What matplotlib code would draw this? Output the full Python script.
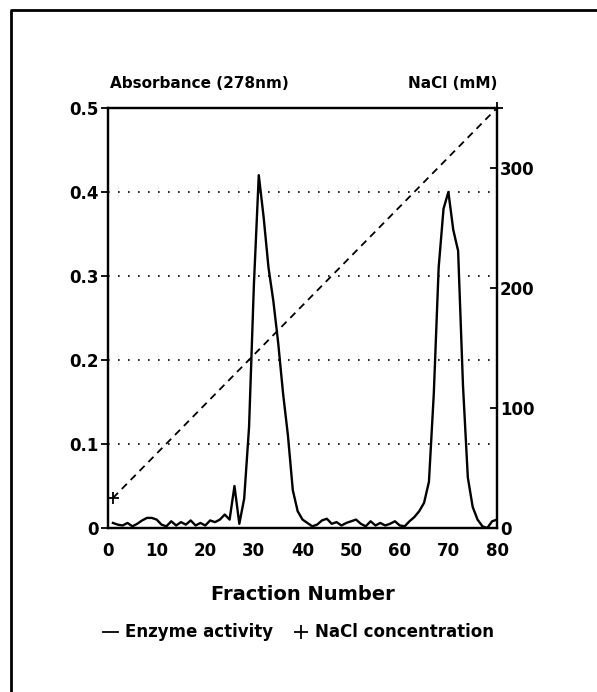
import matplotlib
matplotlib.use('Agg')
import matplotlib.pyplot as plt
from matplotlib.lines import Line2D

plt.rcParams['font.family'] = 'DejaVu Sans'
plt.rcParams['font.weight'] = 'bold'
plt.rcParams['axes.labelweight'] = 'bold'

# enzyme activity (absorbance at 278nm) per fraction
fractions = list(range(1, 81))
absorbance = [
    0.006, 0.004, 0.003, 0.006, 0.002, 0.005, 0.009, 0.012, 0.012, 0.010,
    0.004, 0.002, 0.008, 0.003, 0.007, 0.004, 0.009, 0.003, 0.006, 0.003,
    0.009, 0.007, 0.010, 0.016, 0.010, 0.050, 0.005, 0.035, 0.120, 0.290,
    0.420, 0.370, 0.310, 0.270, 0.220, 0.160, 0.110, 0.045, 0.020, 0.010,
    0.006, 0.002, 0.004, 0.009, 0.011, 0.005, 0.007, 0.003, 0.006, 0.008,
    0.010, 0.005, 0.002, 0.008, 0.003, 0.006, 0.003, 0.005, 0.008, 0.003,
    0.002, 0.008, 0.013, 0.020, 0.030, 0.055, 0.160, 0.310, 0.380, 0.400,
    0.355, 0.330, 0.170, 0.060, 0.025, 0.010, 0.002, 0.000, 0.008, 0.010,
]

# NaCl gradient (mM), linear from first to last fraction
nacl_fractions = [1, 80]
nacl_mm = [25, 350]

left_ticks = [0, 0.1, 0.2, 0.3, 0.4, 0.5]
left_labels = ['0', '0.1', '0.2', '0.3', '0.4', '0.5']
right_ticks = [0, 100, 200, 300]
x_ticks = [0, 10, 20, 30, 40, 50, 60, 70, 80]

fig = plt.figure(figsize=(5.97, 6.92), dpi=100)
ax = fig.add_axes([0.181, 0.237, 0.6515, 0.607])

for y in [0.1, 0.2, 0.3, 0.4]:
    ax.axhline(y, color='black', lw=1.2, linestyle=(0, (1, 5)), zorder=1)

ax.plot(fractions, absorbance, color='black', lw=1.7, zorder=3)
ax.set_xlim(0, 80)
ax.set_ylim(0, 0.5)
ax.set_yticks(left_ticks)
ax.set_yticklabels(left_labels)
ax.set_xticks(x_ticks)
ax.set_xticks([30, 70], minor=True)
ax.tick_params(axis='x', which='major', length=0, pad=10, labelsize=12)
ax.tick_params(axis='x', which='minor', direction='in', length=5, width=1.3)
ax.tick_params(axis='y', direction='out', length=5, width=1.3, pad=2, labelsize=12)
for s in ax.spines.values():
    s.set_linewidth(1.6)

ax2 = ax.twinx()
ax2.plot(nacl_fractions, nacl_mm, color='black', lw=1.3, linestyle=(0, (4, 3)),
         marker='+', markersize=9, markeredgewidth=1.3, clip_on=False, zorder=2)
ax2.set_ylim(0, 350)
ax2.set_yticks(right_ticks)
ax2.tick_params(axis='y', direction='in', length=5, width=1.3, pad=2, labelsize=12)
for s in ax2.spines.values():
    s.set_linewidth(1.6)

ax.set_xlabel('Fraction Number', fontsize=14, labelpad=18)
fig.text(0.184, 0.88, 'Absorbance (278nm)', fontsize=11, ha='left', va='center')
fig.text(0.8325, 0.88, 'NaCl (mM)', fontsize=11, ha='right', va='center')

handles = [Line2D([], [], color='black', lw=1.3),
           Line2D([], [], color='black', lw=0, marker='+', markersize=10, markeredgewidth=1.3)]
fig.legend(handles, ['Enzyme activity', 'NaCl concentration'], loc='center',
           bbox_to_anchor=(0.5, 0.086), ncol=2, frameon=False, fontsize=12,
           handlelength=0.9, handletextpad=0.4, columnspacing=1.2)

# outer frame (top and left edges)
fig.add_artist(Line2D([0.019, 0.019, 1.0], [0.0, 0.986, 0.986], color='black', lw=2,
                      transform=fig.transFigure))

fig.savefig('out.png', dpi=100)
